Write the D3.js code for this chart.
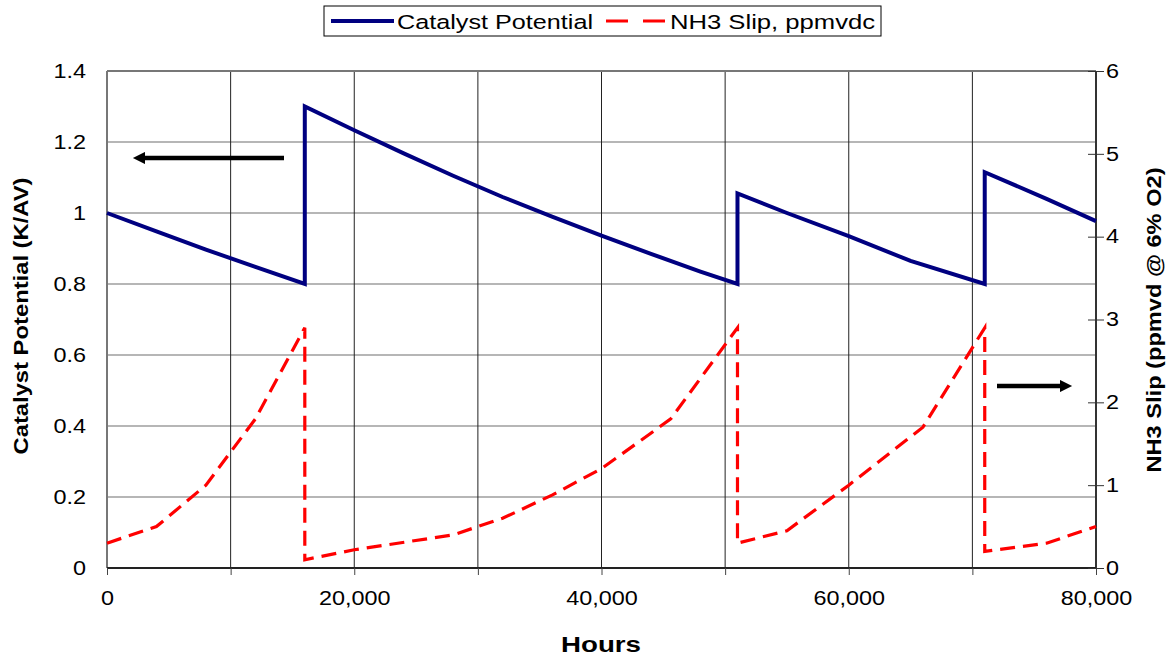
<!DOCTYPE html>
<html>
<head>
<meta charset="utf-8">
<script src="https://cdn.jsdelivr.net/npm/d3@7"></script>
<style>
  body { margin: 0; background: #fff; }
  text { font-family: "Liberation Sans", Arial, sans-serif; }
</style>
</head>
<body>
<div id="chart"></div>
<script>
// data
var catHours = [0, 4000, 8000, 12000, 16000, 16000, 20000, 24000, 28000, 32000, 36000, 40000, 44000, 48000, 51000,
                51000, 55000, 60000, 65000, 71000, 71000, 76000, 80000];
var catValues = [1.0, 0.948, 0.897, 0.848, 0.80, 1.30, 1.233, 1.168, 1.105, 1.045, 0.99, 0.936, 0.885, 0.835, 0.80,
                 1.055, 1.0, 0.935, 0.865, 0.80, 1.115, 1.04, 0.977];
var slipHours = [0, 4000, 8000, 12000, 16000, 16000, 20000, 28000, 32000, 36000, 40000, 45600, 51000,
                 51000, 55000, 60000, 66000, 71000, 71000, 76000, 80000];
var slipValues = [0.3, 0.5, 1.0, 1.8, 2.9, 0.1, 0.22, 0.4, 0.6, 0.88, 1.2, 1.8, 2.9,
                  0.3, 0.45, 1.0, 1.7, 2.9, 0.2, 0.3, 0.5];
var xTicks = [0, 20000, 40000, 60000, 80000];
var leftTicks = [0, 0.2, 0.4, 0.6, 0.8, 1, 1.2, 1.4];
var rightTicks = [0, 1, 2, 3, 4, 5, 6];
var legendNames = ["Catalyst Potential", "NH3 Slip, ppmvdc"];

var width = 1172,
    height = 656;
var margin = {top: 71, right: 76, bottom: 88, left: 107};
var w = width - margin.left - margin.right,
    h = height - margin.top - margin.bottom;

// the picture's lettering is drawn a bit wide, so stretch text sideways
function stretch(sel, k) {
  sel.each(function() {
    var len = this.getComputedTextLength();
    d3.select(this).attr("textLength", len * k).attr("lengthAdjust", "spacingAndGlyphs");
  });
}

var svg = d3.select("#chart").append("svg")
    .attr("width", width)
    .attr("height", height);

var g = svg.append("g")
    .attr("transform", "translate(" + margin.left + "," + margin.top + ")");

var x = d3.scaleLinear().domain([0, 80000]).range([0, w]);
var yL = d3.scaleLinear().domain([0, 1.4]).range([h, 0]);
var yR = d3.scaleLinear().domain([0, 6]).range([h, 0]);

// gridlines
g.selectAll(".hgrid").data(leftTicks).enter().append("line")
    .attr("x1", 0).attr("x2", w)
    .attr("y1", function(d) { return yL(d); })
    .attr("y2", function(d) { return yL(d); })
    .attr("stroke", "#6e6e6e").attr("stroke-width", 1.2);

g.selectAll(".vgrid").data(d3.range(0, 80001, 10000)).enter().append("line")
    .attr("x1", function(d) { return x(d); })
    .attr("x2", function(d) { return x(d); })
    .attr("y1", 0).attr("y2", h)
    .attr("stroke", "#222").attr("stroke-width", 1);

// plot border
g.append("line").attr("x1", 0).attr("x2", 0).attr("y1", 0).attr("y2", h)
    .attr("stroke", "#777").attr("stroke-width", 2);
g.append("line").attr("x1", w).attr("x2", w).attr("y1", 0).attr("y2", h)
    .attr("stroke", "#333").attr("stroke-width", 2);
g.append("line").attr("x1", 0).attr("x2", w).attr("y1", h).attr("y2", h)
    .attr("stroke", "#222").attr("stroke-width", 2);
g.append("line").attr("x1", 0).attr("x2", w).attr("y1", 0).attr("y2", 0)
    .attr("stroke", "#777").attr("stroke-width", 2);

// bottom axis
var xAxis = g.append("g")
    .attr("transform", "translate(0," + h + ")")
    .call(d3.axisBottom(x).tickValues(d3.range(0, 80001, 10000)).tickSize(7)
      .tickFormat(function(d) { return xTicks.indexOf(d) >= 0 ? d3.format(",")(d) : ""; }));
xAxis.select(".domain").remove();
xAxis.selectAll("line").attr("stroke", "#444");
xAxis.selectAll("text").attr("font-size", 19.5).attr("fill", "#000")
    .attr("y", 37).attr("dy", 0)
    .style("font-family", "'Liberation Sans', Arial, sans-serif");

// left axis
var yAxisL = g.append("g")
    .call(d3.axisLeft(yL).tickValues(leftTicks).tickSize(0).tickPadding(21)
      .tickFormat(function(d) { return d3.format("")(+d.toFixed(1)); }));
yAxisL.select(".domain").remove();
yAxisL.selectAll("text").attr("font-size", 19.5).attr("fill", "#000")
    .style("font-family", "'Liberation Sans', Arial, sans-serif");

// right axis
var yAxisR = g.append("g")
    .attr("transform", "translate(" + w + ",0)")
    .call(d3.axisRight(yR).tickValues(rightTicks).tickSize(8).tickPadding(2)
      .tickFormat(d3.format("d")));
yAxisR.select(".domain").remove();
yAxisR.selectAll("line").attr("x1", -8).attr("stroke", "#333");
yAxisR.selectAll("text").attr("font-size", 19.5).attr("fill", "#000")
    .style("font-family", "'Liberation Sans', Arial, sans-serif");

stretch(xAxis.selectAll("text"), 1.2);
stretch(yAxisL.selectAll("text"), 1.2);
stretch(yAxisR.selectAll("text"), 1.2);

// lines
var catLine = d3.line()
    .x(function(d, i) { return x(catHours[i]); })
    .y(function(d) { return yL(d); });
var slipLine = d3.line()
    .x(function(d, i) { return x(slipHours[i]); })
    .y(function(d) { return yR(d); });

g.append("path")
    .attr("d", slipLine(slipValues))
    .attr("fill", "none")
    .attr("stroke", "#ff0000")
    .attr("stroke-width", 3.2)
    .attr("stroke-dasharray", "15,8");

g.append("path")
    .attr("d", catLine(catValues))
    .attr("fill", "none")
    .attr("stroke", "#000080")
    .attr("stroke-width", 4)
    .attr("stroke-linejoin", "miter");

// arrows
var defs = svg.append("defs");
defs.append("marker")
    .attr("id", "head")
    .attr("viewBox", "0 0 10 10")
    .attr("refX", 0).attr("refY", 5)
    .attr("markerWidth", 3.4).attr("markerHeight", 2.7)
    .attr("markerUnits", "strokeWidth")
    .attr("orient", "auto")
    .append("path").attr("d", "M0,0 L10,5 L0,10 Z").attr("fill", "#000");

svg.append("line")
    .attr("x1", 284).attr("y1", 158).attr("x2", 145).attr("y2", 158)
    .attr("stroke", "#000").attr("stroke-width", 4.5)
    .attr("marker-end", "url(#head)");
svg.append("line")
    .attr("x1", 997).attr("y1", 386).attr("x2", 1060).attr("y2", 386)
    .attr("stroke", "#000").attr("stroke-width", 4.5)
    .attr("marker-end", "url(#head)");

// axis titles
svg.append("text")
    .attr("x", 601).attr("y", 652)
    .attr("text-anchor", "middle")
    .attr("font-size", 22).attr("font-weight", "bold")
    .attr("textLength", 80).attr("lengthAdjust", "spacingAndGlyphs")
    .text("Hours");

svg.append("text")
    .attr("transform", "translate(28,316) rotate(-90)")
    .attr("text-anchor", "middle")
    .attr("font-size", 20).attr("font-weight", "bold")
    .attr("textLength", 277).attr("lengthAdjust", "spacingAndGlyphs")
    .text("Catalyst Potential (K/AV)");

svg.append("text")
    .attr("transform", "translate(1161,320) rotate(-90)")
    .attr("text-anchor", "middle")
    .attr("font-size", 20).attr("font-weight", "bold")
    .attr("textLength", 305).attr("lengthAdjust", "spacingAndGlyphs")
    .text("NH3 Slip (ppmvd @ 6% O2)");

// legend
var leg = svg.append("g");
leg.append("rect")
    .attr("x", 324).attr("y", 6).attr("width", 557).attr("height", 30)
    .attr("fill", "#fff").attr("stroke", "#000").attr("stroke-width", 1);
leg.append("line")
    .attr("x1", 331).attr("x2", 394).attr("y1", 21).attr("y2", 21)
    .attr("stroke", "#000080").attr("stroke-width", 4);
leg.append("text")
    .attr("x", 397).attr("y", 29)
    .attr("font-size", 20.5)
    .attr("textLength", 196).attr("lengthAdjust", "spacingAndGlyphs")
    .text(legendNames[0]);
leg.append("line")
    .attr("x1", 606).attr("x2", 667).attr("y1", 21).attr("y2", 21)
    .attr("stroke", "#ff0000").attr("stroke-width", 3.2)
    .attr("stroke-dasharray", "22,15");
leg.append("text")
    .attr("x", 670).attr("y", 29)
    .attr("font-size", 20.5)
    .attr("textLength", 205).attr("lengthAdjust", "spacingAndGlyphs")
    .text(legendNames[1]);
</script>
</body>
</html>
